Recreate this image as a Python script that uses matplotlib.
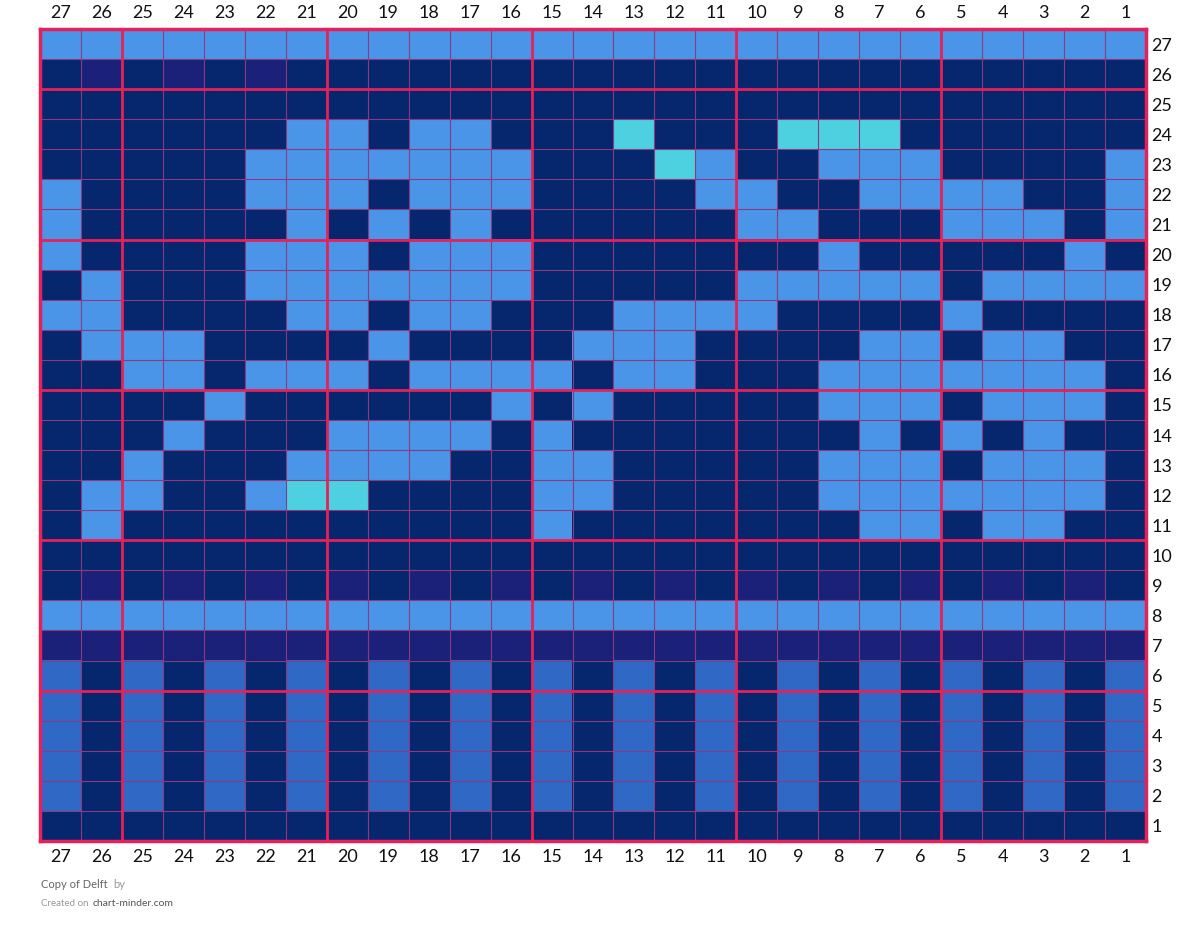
import numpy as np
import matplotlib
matplotlib.use("Agg")
from matplotlib import pyplot as plt
from matplotlib.colors import ListedColormap

plt.rcParams['font.family'] = ['Lato', 'DejaVu Sans']

# colour keys: L light blue, D navy, P purple, C cyan, M mid blue
colours = {'L': '#4A95E8', 'D': '#06266E', 'P': '#1B2178',
           'C': '#4DD1E1', 'M': '#3068C6'}
keys = ['L', 'D', 'P', 'C', 'M']

col_labels = [str(c) for c in range(27, 0, -1)]
row_labels = [str(r) for r in range(27, 0, -1)]

# rows 27 -> 1, each string runs stitch 27 -> 1
rows = [
    "LLLLLLLLLLLLLLLLLLLLLLLLLLL",
    "DPDPDPDDDDDDDDDDDDDDDDDDDDD",
    "DDDDDDDDDDDDDDDDDDDDDDDDDDD",
    "DDDDDDLLDLLDDD" + "CDDDCCCDDDDDD",
    "DDDDDLLLLLLLDD" + "DCLDDLLLDDDDL",
    "LDDDDLLLDLLLDD" + "DDLLDDLLLLDDL",
    "LDDDDDLDLDLDDD" + "DDDLLDDDLLLDL",
    "LDDDDLLLDLLLDD" + "DDDDDLDDDDDLD",
    "DLDDDLLLLLLLDD" + "DDDLLLLLDLLLL",
    "LLDDDDLLDLLDDD" + "LLLLDDDDLDDDD",
    "DLLLDDDDLDDDDL" + "LLDDDDLLDLLDD",
    "DDLLDLLLDLLLLD" + "LLDDDLLLLLLLD",
    "DDDDLDDDDDDLDL" + "DDDDDLLLDLLLD",
    "DDDLDDDLLLLDLD" + "DDDDDDLDLDLDD",
    "DDLDDDLLLLDDLL" + "DDDDDLLLDLLLD",
    "DLLDDLCCDDDDLL" + "DDDDDLLLLLLLD",
    "DLDDDDDDDDDDLD" + "DDDDDDLLDLLDD",
    "DDDDDDDDDDDDDDDDDDDDDDDDDDD",
    "DPDPDPDPDPDPDPDPDPDPDPDPDPD",
    "LLLLLLLLLLLLLLLLLLLLLLLLLLL",
    "PPPPPPPPPPPPPPPPPPPPPPPPPPP",
    "MDMDMDMDMDMDMDMDMDMDMDMDMDM",
    "MDMDMDMDMDMDMDMDMDMDMDMDMDM",
    "MDMDMDMDMDMDMDMDMDMDMDMDMDM",
    "MDMDMDMDMDMDMDMDMDMDMDMDMDM",
    "MDMDMDMDMDMDMDMDMDMDMDMDMDM",
    "DDDDDDDDDDDDDDDDDDDDDDDDDDD",
]

grid = np.array([[keys.index(ch) for ch in r] for r in rows])
nrow, ncol = grid.shape

W, H = 1186, 933
fig = plt.figure(figsize=(W / 100, H / 100), dpi=100)
ax = fig.add_axes([40 / W, 1 - 841 / H, 1106 / W, 812 / H])

cmap = ListedColormap([colours[k] for k in keys])
ax.imshow(grid, cmap=cmap, vmin=-0.5, vmax=len(keys) - 0.5,
          aspect='auto', interpolation='nearest',
          extent=(-0.5, ncol - 0.5, nrow - 0.5, -0.5))

# thin cell lines
for i in range(1, ncol):
    ax.axvline(i - 0.5, color='#8A3A80', lw=0.8, zorder=2)
for j in range(1, nrow):
    ax.axhline(j - 0.5, color='#8A3A80', lw=0.8, zorder=2)
# thick lines every 5 stitches/rows, counted from stitch 1 / row 1
for c in range(1, ncol):
    if c % 5 == 0:
        ax.axvline(ncol - c - 0.5, color='#E8205A', lw=2, zorder=3)
for r in range(1, nrow):
    if r % 5 == 0:
        ax.axhline(nrow - r - 0.5, color='#E8205A', lw=2, zorder=3)

for s in ax.spines.values():
    s.set_color('#E8205A')
    s.set_linewidth(2.5)

ax.set_xlim(-0.5, ncol - 0.5)
ax.set_ylim(nrow - 0.5, -0.5)
ax.set_xticks(range(ncol))
ax.set_xticklabels(col_labels)
ax.set_yticks(range(nrow))
ax.set_yticklabels(row_labels)
ax.tick_params(axis='x', top=True, labeltop=True, bottom=True, labelbottom=True,
               length=0, pad=6, labelsize=13, labelcolor='#111111')
ax.tick_params(axis='y', left=False, labelleft=False, right=True, labelright=True,
               length=0, pad=4, labelsize=13, labelcolor='#111111')

fig.text(41 / W, 1 - 885 / H, "Copy of Delft", fontsize=8, color='#666666', va='center')
fig.text(113 / W, 1 - 885 / H, "by", fontsize=8, color='#999999', va='center')
fig.text(41 / W, 1 - 903 / H, "Created on", fontsize=7, color='#999999', va='center')
fig.text(93 / W, 1 - 903 / H, "chart-minder.com", fontsize=7.5, color='#555555', va='center')

fig.savefig("out.png", dpi=100)
